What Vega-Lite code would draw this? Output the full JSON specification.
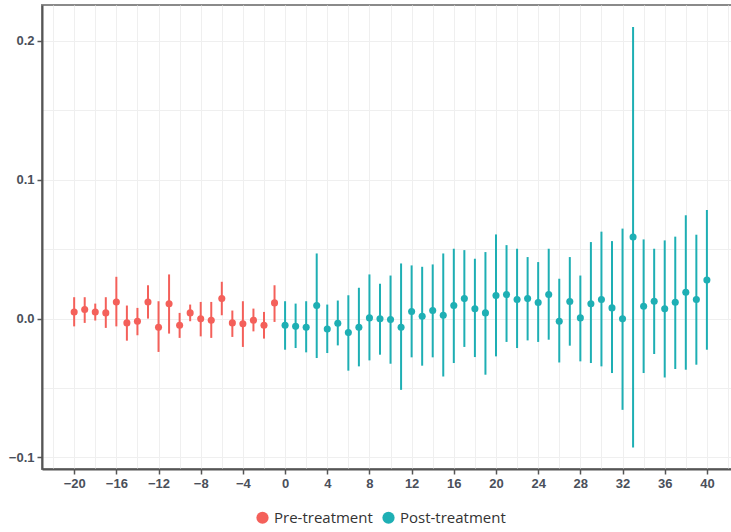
{
  "$schema": "https://vega.github.io/schema/vega-lite/v6.json",
  "autosize": "none",
  "width": 692,
  "height": 464,
  "padding": {"left": 42, "top": 5, "right": 0, "bottom": 63},
  "background": "white",
  "config": {
    "view": {"stroke": "#8a8a8a", "strokeWidth": 2},
    "axis": {"labelFont": "Liberation Sans", "labelFontWeight": "bold", "labelFontSize": 13, "labelColor": "#4a4f5a", "domainColor": "#555555", "domainWidth": 2, "tickColor": "#555555", "tickWidth": 1.5, "tickSize": 5, "labelPadding": 3, "title": null}
  },
  "data": {"values": [
    {"t": -20, "est": 0.0048, "lo": -0.0056, "hi": 0.0154, "grp": "Pre-treatment"},
    {"t": -19, "est": 0.0065, "lo": -0.0031, "hi": 0.0154, "grp": "Pre-treatment"},
    {"t": -18, "est": 0.0048, "lo": -0.0014, "hi": 0.0108, "grp": "Pre-treatment"},
    {"t": -17, "est": 0.0041, "lo": -0.0067, "hi": 0.0154, "grp": "Pre-treatment"},
    {"t": -16, "est": 0.0120, "lo": -0.0056, "hi": 0.0301, "grp": "Pre-treatment"},
    {"t": -15, "est": -0.0031, "lo": -0.0159, "hi": 0.0094, "grp": "Pre-treatment"},
    {"t": -14, "est": -0.0019, "lo": -0.0120, "hi": 0.0077, "grp": "Pre-treatment"},
    {"t": -13, "est": 0.0120, "lo": 0.0000, "hi": 0.0240, "grp": "Pre-treatment"},
    {"t": -12, "est": -0.0063, "lo": -0.0240, "hi": 0.0125, "grp": "Pre-treatment"},
    {"t": -11, "est": 0.0106, "lo": -0.0108, "hi": 0.0318, "grp": "Pre-treatment"},
    {"t": -10, "est": -0.0048, "lo": -0.0139, "hi": 0.0041, "grp": "Pre-treatment"},
    {"t": -9, "est": 0.0041, "lo": -0.0019, "hi": 0.0101, "grp": "Pre-treatment"},
    {"t": -8, "est": -0.0002, "lo": -0.0128, "hi": 0.0120, "grp": "Pre-treatment"},
    {"t": -7, "est": -0.0012, "lo": -0.0139, "hi": 0.0120, "grp": "Pre-treatment"},
    {"t": -6, "est": 0.0144, "lo": 0.0024, "hi": 0.0265, "grp": "Pre-treatment"},
    {"t": -5, "est": -0.0031, "lo": -0.0132, "hi": 0.0058, "grp": "Pre-treatment"},
    {"t": -4, "est": -0.0038, "lo": -0.0204, "hi": 0.0125, "grp": "Pre-treatment"},
    {"t": -3, "est": -0.0012, "lo": -0.0092, "hi": 0.0072, "grp": "Pre-treatment"},
    {"t": -2, "est": -0.0048, "lo": -0.0144, "hi": 0.0048, "grp": "Pre-treatment"},
    {"t": -1, "est": 0.0113, "lo": -0.0024, "hi": 0.0240, "grp": "Pre-treatment"},
    {"t": 0, "est": -0.0048, "lo": -0.0224, "hi": 0.0125, "grp": "Post-treatment"},
    {"t": 1, "est": -0.0056, "lo": -0.0212, "hi": 0.0108, "grp": "Post-treatment"},
    {"t": 2, "est": -0.0063, "lo": -0.0243, "hi": 0.0125, "grp": "Post-treatment"},
    {"t": 3, "est": 0.0094, "lo": -0.0284, "hi": 0.0469, "grp": "Post-treatment"},
    {"t": 4, "est": -0.0075, "lo": -0.0248, "hi": 0.0101, "grp": "Post-treatment"},
    {"t": 5, "est": -0.0034, "lo": -0.0193, "hi": 0.0130, "grp": "Post-treatment"},
    {"t": 6, "est": -0.0101, "lo": -0.0375, "hi": 0.0168, "grp": "Post-treatment"},
    {"t": 7, "est": -0.0063, "lo": -0.0344, "hi": 0.0222, "grp": "Post-treatment"},
    {"t": 8, "est": 0.0005, "lo": -0.0301, "hi": 0.0318, "grp": "Post-treatment"},
    {"t": 9, "est": -0.0002, "lo": -0.0260, "hi": 0.0251, "grp": "Post-treatment"},
    {"t": 10, "est": -0.0007, "lo": -0.0325, "hi": 0.0310, "grp": "Post-treatment"},
    {"t": 11, "est": -0.0063, "lo": -0.0513, "hi": 0.0397, "grp": "Post-treatment"},
    {"t": 12, "est": 0.0051, "lo": -0.0279, "hi": 0.0383, "grp": "Post-treatment"},
    {"t": 13, "est": 0.0017, "lo": -0.0339, "hi": 0.0373, "grp": "Post-treatment"},
    {"t": 14, "est": 0.0058, "lo": -0.0279, "hi": 0.0390, "grp": "Post-treatment"},
    {"t": 15, "est": 0.0024, "lo": -0.0417, "hi": 0.0469, "grp": "Post-treatment"},
    {"t": 16, "est": 0.0094, "lo": -0.0320, "hi": 0.0503, "grp": "Post-treatment"},
    {"t": 17, "est": 0.0144, "lo": -0.0204, "hi": 0.0493, "grp": "Post-treatment"},
    {"t": 18, "est": 0.0070, "lo": -0.0277, "hi": 0.0431, "grp": "Post-treatment"},
    {"t": 19, "est": 0.0041, "lo": -0.0404, "hi": 0.0479, "grp": "Post-treatment"},
    {"t": 20, "est": 0.0166, "lo": -0.0272, "hi": 0.0606, "grp": "Post-treatment"},
    {"t": 21, "est": 0.0173, "lo": -0.0168, "hi": 0.0529, "grp": "Post-treatment"},
    {"t": 22, "est": 0.0137, "lo": -0.0212, "hi": 0.0503, "grp": "Post-treatment"},
    {"t": 23, "est": 0.0144, "lo": -0.0157, "hi": 0.0443, "grp": "Post-treatment"},
    {"t": 24, "est": 0.0116, "lo": -0.0168, "hi": 0.0407, "grp": "Post-treatment"},
    {"t": 25, "est": 0.0173, "lo": -0.0152, "hi": 0.0503, "grp": "Post-treatment"},
    {"t": 26, "est": -0.0019, "lo": -0.0316, "hi": 0.0287, "grp": "Post-treatment"},
    {"t": 27, "est": 0.0123, "lo": -0.0195, "hi": 0.0443, "grp": "Post-treatment"},
    {"t": 28, "est": 0.0005, "lo": -0.0308, "hi": 0.0310, "grp": "Post-treatment"},
    {"t": 29, "est": 0.0106, "lo": -0.0320, "hi": 0.0551, "grp": "Post-treatment"},
    {"t": 30, "est": 0.0137, "lo": -0.0344, "hi": 0.0626, "grp": "Post-treatment"},
    {"t": 31, "est": 0.0077, "lo": -0.0392, "hi": 0.0558, "grp": "Post-treatment"},
    {"t": 32, "est": -0.0002, "lo": -0.0657, "hi": 0.0648, "grp": "Post-treatment"},
    {"t": 33, "est": 0.0587, "lo": -0.0929, "hi": 0.2100, "grp": "Post-treatment"},
    {"t": 34, "est": 0.0089, "lo": -0.0392, "hi": 0.0570, "grp": "Post-treatment"},
    {"t": 35, "est": 0.0125, "lo": -0.0255, "hi": 0.0503, "grp": "Post-treatment"},
    {"t": 36, "est": 0.0070, "lo": -0.0424, "hi": 0.0563, "grp": "Post-treatment"},
    {"t": 37, "est": 0.0118, "lo": -0.0363, "hi": 0.0590, "grp": "Post-treatment"},
    {"t": 38, "est": 0.0190, "lo": -0.0368, "hi": 0.0744, "grp": "Post-treatment"},
    {"t": 39, "est": 0.0137, "lo": -0.0332, "hi": 0.0604, "grp": "Post-treatment"},
    {"t": 40, "est": 0.0277, "lo": -0.0224, "hi": 0.0782, "grp": "Post-treatment"}
  ]},
  "resolve": {"axis": {"x": "independent", "y": "independent"}},
  "layer": [
    {
      "mark": {"type": "rule", "strokeWidth": 2},
      "encoding": {
        "x": {"field": "t", "type": "quantitative", "scale": {"domain": [-23.05, 42.57], "nice": false, "zero": false},
              "axis": {"orient": "bottom", "values": [-22, -20, -18, -16, -14, -12, -10, -8, -6, -4, -2, 0, 2, 4, 6, 8, 10, 12, 14, 16, 18, 20, 22, 24, 26, 28, 30, 32, 34, 36, 38, 40, 42], "grid": true, "gridColor": "#efefef", "gridWidth": 1, "labels": false, "ticks": false, "domain": false}},
        "y": {"field": "lo", "type": "quantitative", "scale": {"domain": [-0.1083, 0.2258], "nice": false, "zero": false},
              "axis": {"orient": "left", "values": [-0.1, -0.05, 0, 0.05, 0.1, 0.15, 0.2], "grid": true, "gridColor": "#efefef", "gridWidth": 1, "labels": false, "ticks": false, "domain": false}},
        "y2": {"field": "hi"},
        "color": {"field": "grp", "type": "nominal", "scale": {"domain": ["Pre-treatment", "Post-treatment"], "range": ["#f4605a", "#1eafb4"]},
                  "legend": {"title": null, "orient": "none", "direction": "horizontal", "legendX": 213, "legendY": 505, "symbolType": "circle", "symbolSize": 150, "symbolStrokeWidth": 0, "symbolOpacity": 1, "labelFont": "Open Sans", "labelFontSize": 15, "labelColor": "#333333", "columnPadding": 8, "labelOffset": 4}}
      }
    },
    {
      "mark": {"type": "point", "filled": true, "size": 50, "opacity": 1},
      "encoding": {
        "x": {"field": "t", "type": "quantitative",
              "axis": {"orient": "bottom", "values": [-20, -16, -12, -8, -4, 0, 4, 8, 12, 16, 20, 24, 28, 32, 36, 40], "grid": false}},
        "y": {"field": "est", "type": "quantitative",
              "axis": {"orient": "left", "values": [-0.1, 0, 0.1, 0.2], "format": ".1f", "grid": false}},
        "color": {"field": "grp", "type": "nominal"}
      }
    }
  ]
}
